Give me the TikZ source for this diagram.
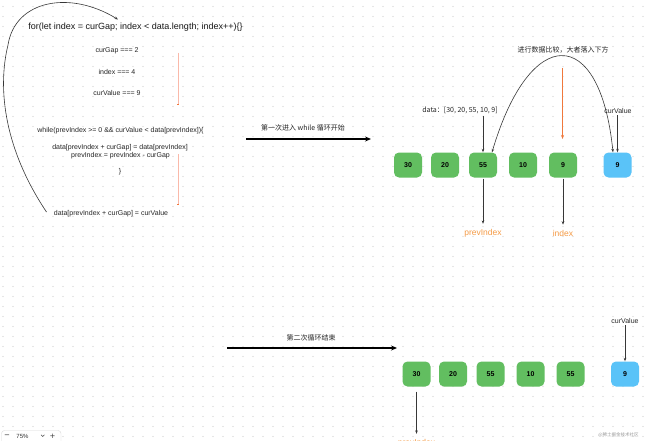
\documentclass[tikz,border=0pt]{standalone}
\usepackage{fontspec}
\setmainfont{Liberation Sans}
\newfontfamily\cjk{Noto Sans CJK SC}
\newfontfamily\dejavu{DejaVu Sans}
\usetikzlibrary{arrows.meta}
\definecolor{boxgreen}{RGB}{98,190,96}
\definecolor{boxblue}{RGB}{90,195,248}
\definecolor{orangeA}{RGB}{240,120,60}
\definecolor{orangeT}{RGB}{245,155,70}
\definecolor{salmon}{RGB}{250,185,170}
\definecolor{linec}{RGB}{55,55,55}
\definecolor{dotc}{RGB}{205,205,205}
\begin{document}
\begin{tikzpicture}[x=1pt,y=-1pt,
  code/.style={font=\fontsize{7}{8.4}\selectfont, inner sep=0, text=black!85},
  bigcode/.style={font=\fontsize{9}{10.8}\selectfont, inner sep=0, text=black!90},
  cjklabel/.style={font=\cjk\fontsize{7}{8}\selectfont, inner sep=0, text=black!85},
  gbox/.style={fill=boxgreen, rounded corners=5pt, minimum width=28pt, minimum height=25pt, font=\fontsize{7}{8}\selectfont\bfseries, inner sep=0},
  bbox/.style={gbox, fill=boxblue},
  conn/.style={draw=linec, line width=0.6pt, -{Stealth[length=3.5pt,width=2.6pt]}},
  biconn/.style={draw=linec, line width=0.6pt, {Stealth[length=3.5pt,width=2.6pt]}-{Stealth[length=3.5pt,width=2.6pt]}},
  bigarrow/.style={draw=black, line width=1.3pt, -{Stealth[length=6pt,width=5pt]}},
  orangelabel/.style={font=\fontsize{8.5}{10}\selectfont, inner sep=0, text=orangeT},
  salmonline/.style={draw=salmon, line width=1pt}
]
\useasboundingbox (0,0) rectangle (650,441);
\clip (0,0) rectangle (650,441);
\fill[white] (0,0) rectangle (650,441);
% dot grid
\foreach \i in {0,...,64}{
  \foreach \j in {0,...,43}{
    \fill[dotc] (3+10*\i,6.5+10*\j) circle (0.55pt);
  }
}
% ---------- left code block ----------
\node[bigcode] (forline) at (135.5,27) {for(let index = curGap; index < data.length; index++)\{\}};
\node[code] (gap) at (117,50.5) {curGap === 2};
\node[code] (idx) at (117,71.5) {index === 4};
\node[code] (cval) at (117,92.5) {curValue === 9};
\node[code] (whl) at (120.5,131) {while(prevIndex >= 0 \&\& curValue < data[prevIndex])\{};
\node[code] (asg1) at (120,147.5) {data[prevIndex + curGap] = data[prevIndex]};
\node[code] (asg2) at (120.5,156) {prevIndex = prevIndex - curGap};
\node[code] (brc) at (120,172) {\}};
\node[code] (fin) at (111,214) {data[prevIndex + curGap] = curValue};
% salmon markers
\coordinate (s1a) at (178,53);
\coordinate (s1b) at (178,105);
\coordinate (s2a) at (178,154);
\coordinate (s2b) at (178,205);
\draw[salmonline] (s1a) -- (s1b);
\fill[orangeA] ([xshift=-0.6pt]s1b) rectangle ([xshift=0.6pt,yshift=1pt]s1b);
\draw[salmonline] (s2a) -- (s2b);
\fill[orangeA] ([xshift=-0.6pt]s2b) rectangle ([xshift=0.6pt,yshift=1pt]s2b);
% loop curve
\coordinate (loopstart) at (46.5,212);
\coordinate (loopmid) at (8,45);
\coordinate (loopend) at (118,19.5);
\draw[conn] (loopstart) .. controls (5,150) and (-3,90) .. (loopmid)
  .. controls (15,0) and (70,-10) .. (loopend);
% ---------- first arrow ----------
\node[cjklabel] (lbl1) at (303,128) {第一次进入 while 循环开始};
\coordinate (a1s) at (246,139);
\coordinate (a1e) at (371,139);
\draw[bigarrow] (a1s) -- (a1e);
% ---------- row 1 ----------
\node[gbox] (r1a) at (408,165) {30};
\node[gbox] (r1b) at (445,165) {20};
\node[gbox] (r1c) at (483,165) {55};
\node[gbox] (r1d) at (523,165) {10};
\node[gbox] (r1e) at (563,165) {9};
\node[bbox] (r1v) at (617.5,165) {9};
\node[cjklabel] (datalbl) at (460,110) {data：[30, 20, 55, 10, 9]};
\draw[conn] ([yshift=-2pt]datalbl.south -| r1c) -- (r1c.north);
\node[cjklabel] (cmp) at (563,49.5) {进行数据比较，大者落入下方};
\coordinate (oa) at (562.5,68);
\coordinate (ob) at (562.5,139);
\draw[draw=orangeA, line width=1.2pt, -{Stealth[length=4pt,width=3pt]}] (oa) -- (ob);
\draw[biconn] ([xshift=9pt]r1c.north) .. controls (530,24) and (600,24) .. ([xshift=-4.5pt]r1v.north);
\node[code] (cv1) at (618,110.5) {curValue};
\draw[conn] ([yshift=-2pt]cv1.south -| r1v) -- (r1v.north);
\node[orangelabel] (pi1) at (483,233) {prevIndex};
\node[orangelabel] (ix1) at (563,233) {index};
\draw[conn] ([yshift=-1pt]r1c.south) -- ([yshift=5pt]pi1.north);
\draw[conn] ([yshift=-1pt]r1e.south) -- ([yshift=5pt]ix1.north);
% ---------- second arrow ----------
\node[cjklabel] (lbl2) at (311,338) {第二次循环结束};
\coordinate (a2s) at (227,348);
\coordinate (a2e) at (397,348);
\draw[bigarrow] (a2s) -- (a2e);
% ---------- row 2 ----------
\node[gbox] (r2a) at (416.5,374) {30};
\node[gbox] (r2b) at (453,374) {20};
\node[gbox] (r2c) at (490.5,374) {55};
\node[gbox] (r2d) at (530.5,374) {10};
\node[gbox] (r2e) at (570.5,374) {55};
\node[bbox] (r2v) at (625,374) {9};
\node[code] (cv2) at (625,320.5) {curValue};
\draw[conn] ([yshift=-2pt]cv2.south -| r2v) -- (r2v.north);
\node[orangelabel] (pi2) at (416.5,443) {prevIndex};
\draw[conn] ([yshift=-5pt]r2a.south) -- ([yshift=5pt]pi2.north);
% ---------- watermark ----------
\node[font=\cjk\fontsize{4.5}{5}\selectfont, text=black!40, inner sep=0] (wm) at (618.5,435) {@稀土掘金技术社区};
% ---------- zoom widget ----------
\draw[draw=black!15, fill=white, rounded corners=3pt] (1.5,430.5) rectangle (61,450);
\node[font=\dejavu\fontsize{7}{8}\selectfont, inner sep=0, text=black!80] (zminus) at (7,436) {−};
\node[font=\fontsize{6}{7}\selectfont, inner sep=0, text=black!80] (zpct) at (22.5,436) {75\%};
\draw[black!70, line width=0.5pt] (41,434.8) -- (42.7,436.5) -- (44.4,434.8);
\node[font=\dejavu\fontsize{7}{8}\selectfont, inner sep=0, text=black!80] (zplus) at (52.5,436) {+};
\end{tikzpicture}
\end{document}
